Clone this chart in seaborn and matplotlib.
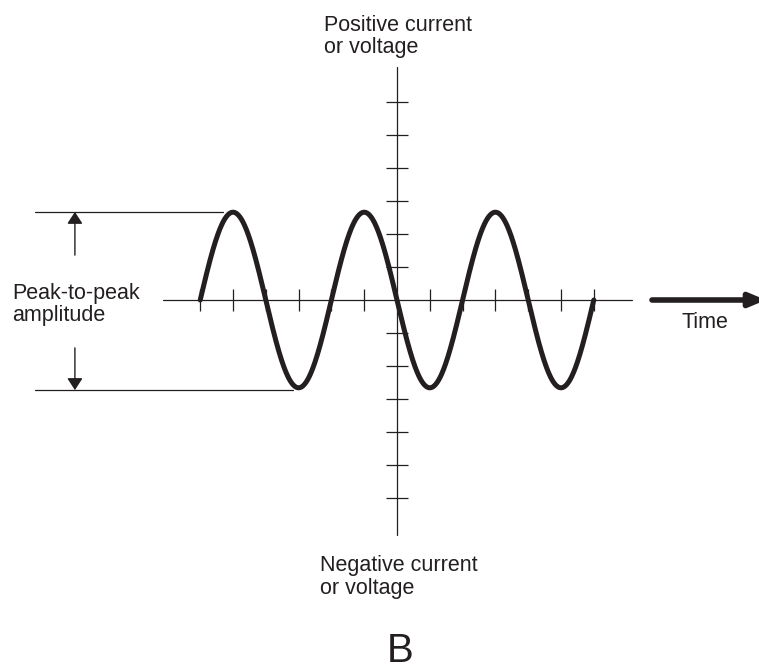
import numpy as np
import pandas as pd
import matplotlib
matplotlib.use("Agg")
import matplotlib.pyplot as plt
import seaborn as sns

sns.set_theme(style="white")
plt.rcParams['font.family'] = ['Liberation Sans', 'DejaVu Sans']

# ---- data (units: one tick spacing) ----
time_ticks = [-6, -5, -4, -3, -2, -1, 1, 2, 3, 4, 5, 6]
value_ticks = [-6, -5, -4, -3, -2, -1, 1, 2, 3, 4, 5, 6]
peak_times = [-5, -1, 3]
trough_times = [-3, 1, 5]
wave_amplitude = 2.66
wave_start, wave_end = -6, 6
peak_level = 2.67
trough_level = -2.73

INK = "#231f20"
W, H = 759, 668
fig = plt.figure(figsize=(W / 100, H / 100), dpi=100)
ax = fig.add_axes([0, 0, 1, 1])
ax.set_xlim(-397 / 32.8, (W - 397) / 32.8)
ax.set_ylim(-(H - 300) / 33, 300 / 33)
ax.axis("off")

# axes lines
ax.plot([-7.13, 7.16], [0, 0], color=INK, lw=0.9)
ax.plot([0, 0], [-7.12, 7.06], color=INK, lw=0.9)
ax.vlines(time_ticks, -0.33, 0.33, color=INK, lw=0.9)
ax.hlines(value_ticks, -0.335, 0.335, color=INK, lw=0.9)

# sine wave
period = np.mean(np.diff(peak_times))
t = np.linspace(wave_start, wave_end, 800)
v = wave_amplitude * np.cos(2 * np.pi * (t - peak_times[0]) / period)
df = pd.DataFrame({"time": t, "value": v})
sns.lineplot(data=df, x="time", y="value", ax=ax, color=INK, lw=3.6,
             sort=False, estimator=None)
ax.set_xlabel("")
ax.set_ylabel("")

# peak-to-peak reference lines
ax.plot([-11.04, -5.3], [peak_level, peak_level], color=INK, lw=0.9)
ax.plot([-11.04, -3.17], [trough_level, trough_level], color=INK, lw=0.9)
small = "-|>,head_length=0.4,head_width=0.26"
ax.annotate("", xy=(-9.82, peak_level), xytext=(-9.82, 1.36),
            arrowprops=dict(arrowstyle=small, color=INK, lw=1.0,
                            mutation_scale=18, shrinkA=0, shrinkB=0))
ax.annotate("", xy=(-9.82, trough_level), xytext=(-9.82, -1.45),
            arrowprops=dict(arrowstyle=small, color=INK, lw=1.0,
                            mutation_scale=18, shrinkA=0, shrinkB=0))

# time arrow
ax.annotate("", xy=((766 - 397) / 32.8, 0), xytext=((652 - 397) / 32.8, 0),
            arrowprops=dict(arrowstyle="-|>,head_length=0.6,head_width=0.25",
                            color=INK, lw=4.0, mutation_scale=16,
                            shrinkA=0, shrinkB=0),
            annotation_clip=False)

def ftext(x, y, s, size=15.5, **kw):
    fig.text(x / W, 1 - y / H, s, fontsize=size, color=INK,
             va="baseline", ha=kw.pop("ha", "left"), **kw)

ftext(324, 31, "Positive current")
ftext(324, 53, "or voltage")
ftext(320, 571.5, "Negative current")
ftext(320, 594, "or voltage")
ftext(12, 299, "Peak-to-peak")
ftext(12, 321.5, "amplitude")
ftext(682, 328, "Time")
ftext(400.5, 661.5, "B", size=29, ha="center")

fig.savefig("out.png", dpi=100)
